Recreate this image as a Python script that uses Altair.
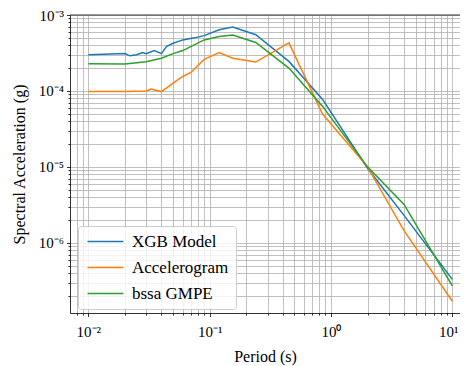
import altair as alt
import pandas as pd

series_names = ["XGB Model", "Accelerogram", "bssa GMPE"]
series_colors = ["#1f77b4", "#ff7f0e", "#2ca02c"]

period_xgb = [0.01, 0.02, 0.022, 0.025, 0.028, 0.03, 0.035, 0.04, 0.044, 0.05, 0.06,
              0.075, 0.09, 0.12, 0.155, 0.24, 0.45, 0.85, 2.0, 4.0, 10.0]
sa_xgb = [3.0e-4, 3.1e-4, 2.9e-4, 3.0e-4, 3.2e-4, 3.1e-4, 3.4e-4, 3.1e-4, 3.85e-4, 4.25e-4, 4.7e-4,
          5.0e-4, 5.35e-4, 6.4e-4, 6.95e-4, 5.5e-4, 2.45e-4, 7.8e-5, 9.6e-6, 2.3e-6, 3.3e-7]

period_acc = [0.01, 0.02, 0.03, 0.033, 0.04, 0.044, 0.05, 0.06, 0.07, 0.09, 0.12,
              0.155, 0.24, 0.45, 0.85, 2.0, 4.0, 10.0]
sa_acc = [9.8e-5, 9.8e-5, 1.0e-4, 1.06e-4, 9.8e-5, 1.09e-4, 1.27e-4, 1.55e-4, 1.75e-4, 2.6e-4, 3.2e-4,
          2.7e-4, 2.4e-4, 4.3e-4, 5.0e-5, 1.0e-5, 1.45e-6, 1.7e-7]

period_gmpe = [0.01, 0.02, 0.03, 0.04, 0.05, 0.06, 0.09, 0.12, 0.155, 0.24, 0.45, 0.85,
               2.0, 4.0, 10.0]
sa_gmpe = [2.28e-4, 2.26e-4, 2.42e-4, 2.7e-4, 3.1e-4, 3.4e-4, 4.7e-4, 5.2e-4, 5.45e-4, 4.35e-4,
           2.0e-4, 6.3e-5, 1.0e-5, 3.2e-6, 2.7e-7]

x_domain = [0.00706, 11.57]
y_domain = [1.19e-7, 1.0e-3]

frames = []
for name, ps, vs in [(series_names[0], period_xgb, sa_xgb),
                     (series_names[1], period_acc, sa_acc),
                     (series_names[2], period_gmpe, sa_gmpe)]:
    frames.append(pd.DataFrame({"Period": ps, "SA": vs, "Series": name}))
df = pd.concat(frames, ignore_index=True)

x_ticks = [m * 10.0 ** e for e in range(-3, 2) for m in range(1, 10)
           if x_domain[0] <= m * 10.0 ** e <= x_domain[1]]
y_ticks = [m * 10.0 ** e for e in range(-8, -2) for m in range(1, 10)
           if y_domain[0] <= m * 10.0 ** e <= y_domain[1] * 1.0001]

FONT = "Liberation Serif"
EXP = "round(log(datum.value)/LN10)"
IS_MAJOR = f"abs(log(datum.value)/LN10 - {EXP}) < 0.001"
sup = {-7: "⁻⁷", -6: "⁻⁶", -5: "⁻⁵", -4: "⁻⁴", -3: "⁻³", -2: "⁻²", -1: "⁻¹", 0: "⁰", 1: "¹"}
lab = "''"
for e, s in sup.items():
    lab = f"({EXP} == {e} ? '10{s}' : {lab})"
label_expr = f"{IS_MAJOR} ? {lab} : ''"

tick_size = {"condition": {"test": IS_MAJOR, "value": 3.5}, "value": 2}
x_label_offset = {"condition": {"test": "datum.value > 9.5", "value": -4}, "value": 0}

W, H = 390, 298

lines = alt.Chart(df).mark_line(strokeWidth=1.5, clip=True).encode(
    x=alt.X("Period:Q",
            scale=alt.Scale(type="log", domain=x_domain, nice=False),
            axis=alt.Axis(values=x_ticks, labelExpr=label_expr, title="Period (s)",
                          tickSize=tick_size, labelOverlap=False, labelFlush=False,
                          labelOffset=x_label_offset,
                          labelPadding=8, titlePadding=9)),
    y=alt.Y("SA:Q",
            scale=alt.Scale(type="log", domain=y_domain, nice=False),
            axis=alt.Axis(values=y_ticks, labelExpr=label_expr,
                          title="Spectral Acceleration (g)",
                          tickSize=tick_size, labelOverlap=False, labelFlush=False,
                          labelPadding=3, titlePadding=11)),
    color=alt.Color("Series:N",
                    scale=alt.Scale(domain=series_names, range=series_colors),
                    sort=series_names,
                    legend=alt.Legend(title=None, orient="none", legendX=8, legendY=211,
                                      symbolType="M-1,0H5", symbolSize=144,
                                      symbolStrokeWidth=1.5, symbolFillColor="transparent",
                                      labelFontSize=17,
                                      labelFont=FONT, labelOffset=30, rowPadding=8,
                                      padding=7, fillColor="rgba(255,255,255,0.8)",
                                      strokeColor="#cccccc", cornerRadius=3,
                                      labelLimit=300)),
    detail="Series:N",
)

top_frame = alt.Chart(pd.DataFrame({"a": [0]})).mark_rule(color="black", strokeWidth=0.8).encode(
    x=alt.value(0), x2=alt.value(W), y=alt.value(0)
)

chart = alt.layer(lines, top_frame).properties(
    width=W, height=H,
    autosize=alt.AutoSizeParams(type="none"),
    padding={"left": 62, "top": 7, "right": 0, "bottom": 55},
).configure_view(stroke=None).configure_axis(
    grid=True, gridColor="#b0b0b0", gridWidth=0.8,
    domainColor="black", domainWidth=0.8,
    tickColor="black", tickWidth=0.8,
    labelFont=FONT, labelFontSize=15, labelColor="black",
    titleFont=FONT, titleFontSize=16, titleFontWeight="normal", titleColor="black",
)

chart.save("out.html", embed_options={"renderer": "svg", "actions": False})
